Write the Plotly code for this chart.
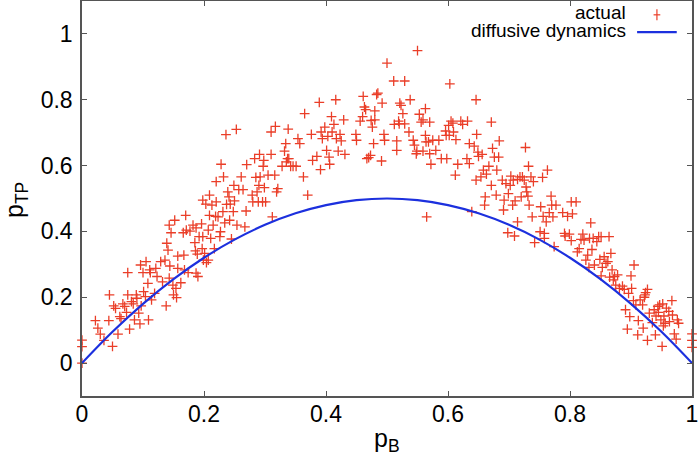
import plotly.graph_objects as go

# ---- data ----
actual_x = [
    0.000, 0.000, 0.000, 0.022, 0.026, 0.030, 0.036, 0.044, 0.045, 0.050, 0.052, 0.055, 0.059, 0.062, 0.064,
    0.067, 0.070, 0.073, 0.075, 0.075, 0.078, 0.081, 0.084, 0.086, 0.089, 0.090, 0.093, 0.095, 0.096, 0.097,
    0.100, 0.101, 0.104, 0.105, 0.108, 0.109, 0.111, 0.112, 0.114, 0.119, 0.121, 0.123, 0.129, 0.132, 0.136,
    0.138, 0.139, 0.141, 0.143, 0.143, 0.144, 0.146, 0.149, 0.150, 0.152, 0.154, 0.155, 0.157, 0.157, 0.162,
    0.166, 0.167, 0.168, 0.170, 0.171, 0.174, 0.177, 0.182, 0.185, 0.186, 0.187, 0.187, 0.189, 0.190, 0.192,
    0.196, 0.197, 0.198, 0.198, 0.199, 0.201, 0.203, 0.204, 0.207, 0.207, 0.209, 0.209, 0.211, 0.213, 0.215,
    0.217, 0.219, 0.220, 0.220, 0.223, 0.226, 0.227, 0.228, 0.231, 0.232, 0.234, 0.236, 0.237, 0.239, 0.241,
    0.242, 0.243, 0.245, 0.248, 0.249, 0.250, 0.253, 0.254, 0.257, 0.261, 0.264, 0.267, 0.269, 0.270, 0.279,
    0.280, 0.283, 0.285, 0.287, 0.289, 0.290, 0.291, 0.292, 0.296, 0.297, 0.298, 0.299, 0.301, 0.305, 0.310,
    0.310, 0.312, 0.316, 0.317, 0.319, 0.321, 0.328, 0.332, 0.334, 0.335, 0.337, 0.338, 0.339, 0.342, 0.346,
    0.351, 0.354, 0.357, 0.363, 0.365, 0.370, 0.376, 0.378, 0.385, 0.389, 0.391, 0.392, 0.394, 0.398, 0.401,
    0.403, 0.405, 0.406, 0.409, 0.410, 0.413, 0.416, 0.417, 0.420, 0.423, 0.425, 0.429, 0.431, 0.449, 0.450,
    0.456, 0.460, 0.461, 0.463, 0.465, 0.467, 0.470, 0.473, 0.474, 0.476, 0.478, 0.480, 0.480, 0.483, 0.485,
    0.491, 0.492, 0.495, 0.496, 0.500,
    0.511, 0.512, 0.516, 0.516, 0.519, 0.520, 0.521, 0.523, 0.526, 0.529, 0.529, 0.536, 0.538, 0.543, 0.545,
    0.548, 0.549, 0.550, 0.553, 0.556, 0.559, 0.559, 0.563, 0.563, 0.564, 0.565, 0.568, 0.570, 0.570, 0.572,
    0.575, 0.580, 0.585, 0.589, 0.596, 0.597, 0.598, 0.601, 0.602, 0.603, 0.605, 0.608, 0.609, 0.612, 0.613,
    0.616, 0.621, 0.624, 0.631, 0.632, 0.635, 0.635, 0.639, 0.643, 0.646, 0.646, 0.647, 0.649, 0.650, 0.654,
    0.656, 0.658, 0.660, 0.661, 0.663, 0.667, 0.671, 0.671, 0.673, 0.676, 0.679, 0.680, 0.683, 0.684, 0.689,
    0.691, 0.692, 0.695, 0.698, 0.699, 0.702, 0.703, 0.706, 0.707, 0.709, 0.710, 0.714, 0.714, 0.718, 0.720,
    0.722, 0.725, 0.727, 0.728, 0.729, 0.731, 0.732, 0.733, 0.736, 0.738, 0.740, 0.742, 0.751, 0.752, 0.755,
    0.756, 0.758, 0.758, 0.761, 0.763, 0.766, 0.769, 0.770, 0.772, 0.774, 0.777, 0.788, 0.791, 0.792, 0.796,
    0.799, 0.802, 0.802, 0.804, 0.810, 0.812, 0.815, 0.818, 0.821, 0.823, 0.826, 0.829, 0.831, 0.832, 0.834,
    0.836, 0.838, 0.840, 0.844, 0.847, 0.849, 0.851, 0.851, 0.853, 0.856, 0.859, 0.862, 0.864, 0.865, 0.867,
    0.869, 0.871, 0.873, 0.875, 0.878, 0.881, 0.886, 0.889, 0.891, 0.894, 0.896, 0.898, 0.900, 0.901, 0.904,
    0.905, 0.908, 0.911, 0.912, 0.915, 0.919, 0.920, 0.922, 0.923, 0.924, 0.927, 0.927, 0.930, 0.935, 0.938,
    0.940, 0.941, 0.944, 0.945, 0.947, 0.949, 0.951, 0.952, 0.953, 0.954, 0.956, 0.958, 0.962, 0.963, 0.967,
    0.968, 0.971, 0.974, 0.976, 0.978, 1.000, 1.000, 1.000,
]
actual_y = [
    0.070, 0.050, 0.000, 0.129, 0.106, 0.088, 0.069, 0.129, 0.207, 0.051, 0.174, 0.166, 0.088, 0.141, 0.135,
    0.180, 0.172, 0.154, 0.275, 0.207, 0.103, 0.187, 0.180, 0.131, 0.207, 0.197, 0.152, 0.119, 0.298, 0.174,
    0.275, 0.217, 0.202, 0.308, 0.242, 0.131, 0.283, 0.275, 0.192, 0.212, 0.288, 0.263, 0.308, 0.247, 0.313,
    0.174, 0.364, 0.343, 0.419, 0.258, 0.295, 0.396, 0.237, 0.207, 0.434, 0.227, 0.199, 0.325, 0.288, 0.244,
    0.396, 0.328, 0.283, 0.449, 0.404, 0.275, 0.401, 0.419, 0.366, 0.341, 0.411, 0.273, 0.331, 0.263, 0.384,
    0.423, 0.348, 0.384, 0.495, 0.313, 0.333, 0.483, 0.305, 0.313, 0.404, 0.510, 0.449, 0.379, 0.480, 0.419,
    0.348, 0.446, 0.551, 0.490, 0.444, 0.384, 0.399, 0.604, 0.460, 0.566, 0.426, 0.694, 0.482, 0.520, 0.505,
    0.434, 0.483, 0.377, 0.460, 0.540, 0.493, 0.710, 0.419, 0.527, 0.566, 0.527, 0.414, 0.462, 0.603, 0.510,
    0.490, 0.621, 0.564, 0.520, 0.490, 0.540, 0.634, 0.566, 0.490, 0.598, 0.616, 0.533, 0.490, 0.571, 0.634,
    0.702, 0.444, 0.571, 0.719, 0.520, 0.530, 0.598, 0.644, 0.667, 0.611, 0.621, 0.711, 0.621, 0.598, 0.598,
    0.598, 0.682, 0.667, 0.566, 0.758, 0.510, 0.695, 0.616, 0.628, 0.792, 0.588, 0.702, 0.682, 0.717, 0.646,
    0.689, 0.626, 0.604, 0.749, 0.702, 0.725, 0.800, 0.682, 0.644, 0.695, 0.675, 0.739, 0.634, 0.695, 0.677,
    0.735, 0.749, 0.810, 0.778, 0.770, 0.621, 0.624, 0.631, 0.737, 0.717, 0.667, 0.766, 0.739, 0.816, 0.820,
    0.614, 0.790, 0.695, 0.677, 0.911,
    0.857, 0.725, 0.675, 0.646, 0.735, 0.727, 0.790, 0.783, 0.758, 0.857, 0.727, 0.702, 0.800, 0.677, 0.662,
    0.636, 0.644, 0.949, 0.756, 0.732, 0.739, 0.644, 0.773, 0.692, 0.672, 0.444, 0.672, 0.732, 0.636, 0.604,
    0.677, 0.646, 0.677, 0.621, 0.705, 0.692, 0.621, 0.722, 0.692, 0.848, 0.735, 0.729, 0.702, 0.571, 0.679,
    0.604, 0.735, 0.725, 0.621, 0.735, 0.667, 0.606, 0.460, 0.659, 0.800, 0.556, 0.695, 0.641, 0.628, 0.566,
    0.634, 0.586, 0.480, 0.505, 0.574, 0.598, 0.732, 0.540, 0.652, 0.626, 0.510, 0.586, 0.626, 0.675, 0.556,
    0.465, 0.495, 0.545, 0.396, 0.515, 0.540, 0.568, 0.480, 0.556, 0.386, 0.493, 0.429, 0.558, 0.566, 0.505,
    0.566, 0.556, 0.655, 0.535, 0.520, 0.507, 0.598, 0.480, 0.566, 0.444, 0.551, 0.366, 0.399, 0.475, 0.564,
    0.446, 0.394, 0.379, 0.429, 0.586, 0.457, 0.507, 0.480, 0.444, 0.354, 0.480, 0.457, 0.394, 0.386, 0.446,
    0.392, 0.490, 0.372, 0.453, 0.490, 0.338, 0.348, 0.376, 0.392, 0.374, 0.313, 0.328, 0.291, 0.379, 0.426,
    0.345, 0.379, 0.298, 0.369, 0.384, 0.315, 0.384, 0.265, 0.291, 0.323, 0.303, 0.308, 0.384, 0.261, 0.333,
    0.283, 0.253, 0.263, 0.237, 0.268, 0.227, 0.234, 0.224, 0.162, 0.103, 0.212, 0.141, 0.265, 0.227, 0.190,
    0.298, 0.177, 0.086, 0.129, 0.192, 0.177, 0.106, 0.200, 0.207, 0.214, 0.224, 0.069, 0.152, 0.123, 0.162,
    0.086, 0.143, 0.172, 0.154, 0.177, 0.131, 0.051, 0.180, 0.113, 0.143, 0.121, 0.167, 0.157, 0.126, 0.190,
    0.146, 0.089, 0.073, 0.131, 0.121, 0.089, 0.069, 0.048,
]

diffusive_x = [0.0, 0.05, 0.1, 0.15, 0.2, 0.25, 0.3, 0.35, 0.4, 0.45, 0.5,
               0.55, 0.6, 0.65, 0.7, 0.75, 0.8, 0.85, 0.9, 0.95, 1.0]
diffusive_y = [0.0, 0.095, 0.18, 0.255, 0.32, 0.375, 0.42, 0.455, 0.48, 0.495, 0.5,
               0.495, 0.48, 0.455, 0.42, 0.375, 0.32, 0.255, 0.18, 0.095, 0.0]

x_ticks = [0, 0.2, 0.4, 0.6, 0.8, 1]
x_ticklabels = ["0", "0.2", "0.4", "0.6", "0.8", "1"]
y_ticks = [0, 0.2, 0.4, 0.6, 0.8, 1]
y_ticklabels = ["0", "0.2", "0.4", "0.6", "0.8", "1"]

RED = "rgb(234,62,40)"
BLUE = "rgb(28,48,222)"
AXC = "#555555"
FONT = "Liberation Sans, Arial, Helvetica, sans-serif"

fig = go.Figure()
fig.add_trace(go.Scatter(
    x=actual_x, y=actual_y, mode="markers", name="actual",
    marker=dict(symbol="cross-thin", size=7, line=dict(color=RED, width=1.3), color=RED),
    showlegend=False, cliponaxis=False,
))
fig.add_trace(go.Scatter(
    x=diffusive_x, y=diffusive_y, mode="lines", name="diffusive dynamics",
    line=dict(color=BLUE, width=2.2, shape="spline"),
    showlegend=False,
))

axis_common = dict(
    showgrid=False, zeroline=False, showline=True, linecolor=AXC, linewidth=1.5,
    mirror="ticks", ticks="inside", ticklen=5, tickwidth=1, tickcolor=AXC,
    tickfont=dict(family=FONT, size=23, color="black"), automargin=False,
)

fig.update_xaxes(range=[0, 1], tickvals=x_ticks, ticktext=x_ticklabels,
                 ticklabelstandoff=-3, **axis_common)
fig.update_yaxes(range=[-0.1, 1.1], tickvals=y_ticks, ticktext=y_ticklabels,
                 ticklabelstandoff=3, **axis_common)

# axis titles
fig.add_annotation(xref="paper", yref="paper", x=(387 - 82) / 610, y=(396 - 440) / 395,
                   text="p<sub>B</sub>", showarrow=False, xanchor="center", yanchor="middle",
                   font=dict(family=FONT, size=25, color="black"))
fig.add_annotation(xref="paper", yref="paper", x=(16 - 82) / 610, y=(396 - 200) / 395,
                   text="p<sub>TP</sub>", showarrow=False, xanchor="center", yanchor="middle",
                   textangle=-90, font=dict(family=FONT, size=25, color="black"))

# legend (text right-aligned, sample to the right, like the reference)
fig.add_annotation(xref="paper", yref="paper", x=0.895, y=0.970, text="actual",
                   showarrow=False, xanchor="right", yanchor="middle",
                   font=dict(family=FONT, size=19, color="black"))
fig.add_annotation(xref="paper", yref="paper", x=0.895, y=0.925, text="diffusive dynamics",
                   showarrow=False, xanchor="right", yanchor="middle",
                   font=dict(family=FONT, size=19, color="black"))
fig.add_shape(type="line", xref="paper", yref="paper", x0=0.910, x1=0.975, y0=0.921, y1=0.921,
              line=dict(color=BLUE, width=2.2))
fig.add_shape(type="line", xref="paper", yref="paper", x0=0.937, x1=0.948, y0=0.965, y1=0.965,
              line=dict(color=RED, width=1.2))
fig.add_shape(type="line", xref="paper", yref="paper", x0=0.9425, x1=0.9425, y0=0.951, y1=0.979,
              line=dict(color=RED, width=1.2))

fig.update_layout(
    width=700, height=461,
    margin=dict(l=82, r=8, t=1, b=65, pad=0),
    paper_bgcolor="white", plot_bgcolor="white",
    font=dict(family=FONT, color="black"),
)

fig.write_html("out.html", config={"displayModeBar": False},
               post_script="document.body.style.margin='0';document.body.style.overflow='hidden';")
